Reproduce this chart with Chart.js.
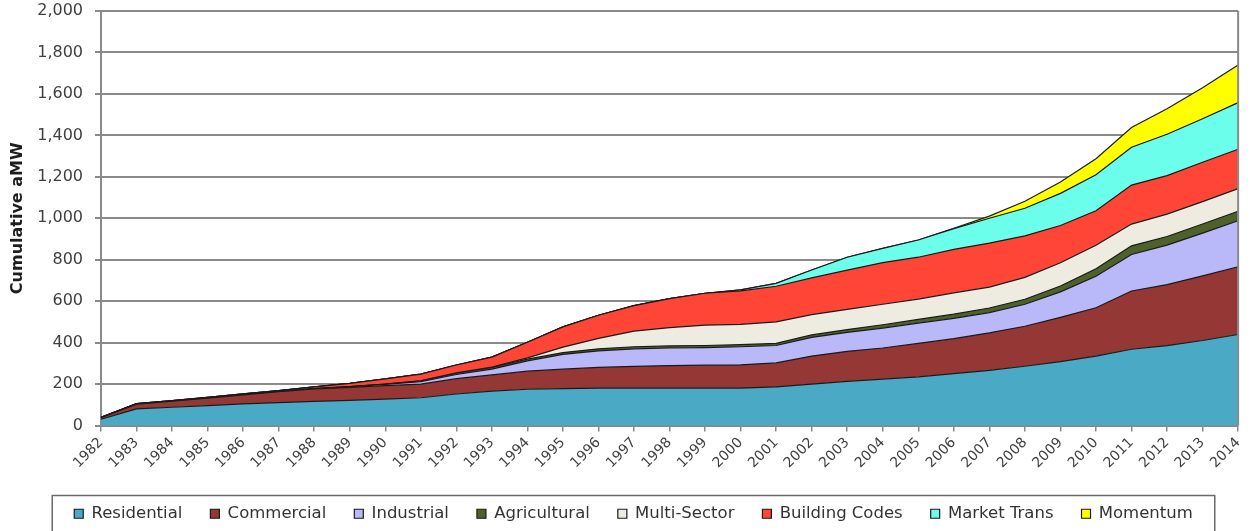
<!DOCTYPE html>
<html>
<head>
<meta charset="utf-8">
<script src="https://cdn.jsdelivr.net/npm/chart.js@4.4.1/dist/chart.umd.min.js"></script>
<style>
  html, body { margin: 0; padding: 0; overflow: hidden; background: #fff; }
  #wrap { width: 1253px; height: 531px; overflow: hidden; }
</style>
</head>
<body>
<div id="wrap"><canvas id="chart" width="1253" height="532"></canvas></div>
<script>
const years = [
  "1982", "1983", "1984", "1985", "1986", "1987", "1988", "1989", "1990", "1991",
  "1992", "1993", "1994", "1995", "1996", "1997", "1998", "1999", "2000", "2001",
  "2002", "2003", "2004", "2005", "2006", "2007", "2008", "2009", "2010", "2011",
  "2012", "2013", "2014",
];

// aMW added by each program (stacked)
const residential = [30, 80, 88, 96, 104, 110, 116, 121, 127, 134, 152, 166, 175, 178, 180, 180, 180, 180, 180, 186, 200, 213, 224, 235, 250, 266, 286, 308, 335, 368, 385, 410, 439];
const commercial = [8, 23, 29, 36, 44, 53, 60, 63, 65, 66, 74, 78, 87, 94, 100, 105, 109, 111, 113, 116, 135, 145, 150, 161, 169, 181, 193, 214, 233, 281, 295, 312, 327];
const industrial = [0, 0, 0, 0, 0, 0, 1, 3, 6, 12, 20, 28, 50, 71, 80, 85, 85, 85, 87, 84, 90, 91, 96, 98, 98, 98, 106, 123, 152, 176, 190, 206, 222];
const agricultural = [0, 0, 0, 1, 1, 1, 1, 1, 2, 3, 6, 8, 8, 9, 10, 10, 10, 10, 10, 10, 12, 14, 16, 18, 20, 22, 24, 28, 36, 42, 42, 44, 46];
const multiSector = [0, 0, 0, 0, 0, 0, 0, 0, 0, 1, 2, 2, 6, 26, 50, 75, 88, 98, 98, 104, 98, 97, 99, 98, 103, 101, 106, 112, 114, 105, 108, 108, 109];
const buildingCodes = [2, 3, 3, 3, 4, 4, 8, 15, 25, 32, 38, 48, 76, 98, 112, 123, 140, 154, 162, 172, 177, 190, 201, 202, 210, 212, 200, 180, 166, 188, 186, 190, 190];
const marketTrans = [0, 0, 0, 0, 0, 0, 0, 0, 0, 0, 0, 0, 0, 0, 0, 0, 0, 0, 4, 14, 38, 62, 69, 83, 100, 120, 133, 155, 174, 183, 199, 210, 225];
const momentum = [0, 0, 0, 0, 0, 0, 0, 0, 0, 0, 0, 0, 0, 0, 0, 0, 0, 0, 0, 0, 0, 0, 0, 0, 2, 10, 34, 55, 77, 95, 123, 150, 181];

const seriesNames = ["Residential", "Commercial", "Industrial", "Agricultural", "Multi-Sector", "Building Codes", "Market Trans", "Momentum"];
const seriesData = [residential, commercial, industrial, agricultural, multiSector, buildingCodes, marketTrans, momentum];
const seriesColors = ["#4aaac6", "#953735", "#b9b9f9", "#4e6128", "#eeece1", "#ff4535", "#6bffeb", "#ffff00"];

const yTicks = [0, 200, 400, 600, 800, 1000, 1200, 1400, 1600, 1800, 2000];

const number = new Intl.NumberFormat("en-US");
const gridColor = "#8a8a8a";
const textColor = "#3f3f3f";

const datasets = seriesNames.map((name, i) => ({
  label: name,
  data: seriesData[i],
  backgroundColor: seriesColors[i],
  borderColor: "#1a1a1a",
  borderWidth: 1.2,
  pointRadius: 0,
  tension: 0,
  fill: i === 0 ? "origin" : "-1",
}));

// right edge of the plot and the box round the legend
const framePlugin = {
  id: "frame",
  afterDraw(chart) {
    const ctx = chart.ctx;
    const area = chart.chartArea;
    ctx.save();
    ctx.strokeStyle = gridColor;
    ctx.lineWidth = 2;
    ctx.beginPath();
    ctx.moveTo(area.right, area.top);
    ctx.lineTo(area.right, area.bottom);
    ctx.stroke();

    const boxes = chart.legend.legendHitBoxes;
    if (boxes && boxes.length) {
      const left = Math.min(...boxes.map((b) => b.left)) - 22;
      const right = Math.max(...boxes.map((b) => b.left + b.width)) + 22;
      const top = boxes[0].top - 10;
      ctx.strokeStyle = "#6a6a6a";
      ctx.lineWidth = 1.5;
      ctx.strokeRect(left, top, right - left, 80);
    }
    ctx.restore();
  },
};

new Chart(document.getElementById("chart"), {
  type: "line",
  data: { labels: years, datasets },
  plugins: [framePlugin],
  options: {
    responsive: false,
    animation: false,
    layout: { padding: { top: 11, right: 10, left: 24, bottom: 0 } },
    plugins: {
      tooltip: { enabled: false },
      legend: {
        position: "bottom",
        labels: {
          boxWidth: 9,
          boxHeight: 9,
          padding: 28,
          color: "#333",
          font: { family: "DejaVu Sans", size: 16.5 },
        },
      },
    },
    scales: {
      x: {
        offset: false,
        grid: {
          drawOnChartArea: false,
          drawTicks: true,
          tickLength: 6,
          color: gridColor,
          lineWidth: 1.5,
        },
        border: { color: gridColor, width: 2 },
        ticks: {
          autoSkip: false,
          minRotation: 45,
          maxRotation: 45,
          padding: 3,
          color: textColor,
          font: { family: "DejaVu Sans", size: 14 },
        },
        afterFit(scale) {
          scale.height = 52;
        },
      },
      y: {
        stacked: true,
        min: 0,
        max: 2000,
        afterBuildTicks(scale) {
          scale.ticks = yTicks.map((v) => ({ value: v }));
        },
        grid: {
          color: gridColor,
          lineWidth: 2,
          tickLength: 6,
        },
        border: { color: gridColor, width: 2 },
        ticks: {
          padding: 12,
          color: textColor,
          font: { family: "DejaVu Sans", size: 16 },
          callback: (value) => number.format(value),
        },
        title: {
          display: true,
          text: "Cumulative aMW",
          color: "#1e1e1e",
          padding: { top: -16, bottom: 0 },
          font: { family: "DejaVu Sans", size: 16, weight: "bold" },
        },
        afterFit(scale) {
          scale.width = 77;
          scale.paddingTop = 0;
          scale.paddingBottom = 0;
        },
      },
    },
  },
});
</script>
</body>
</html>
